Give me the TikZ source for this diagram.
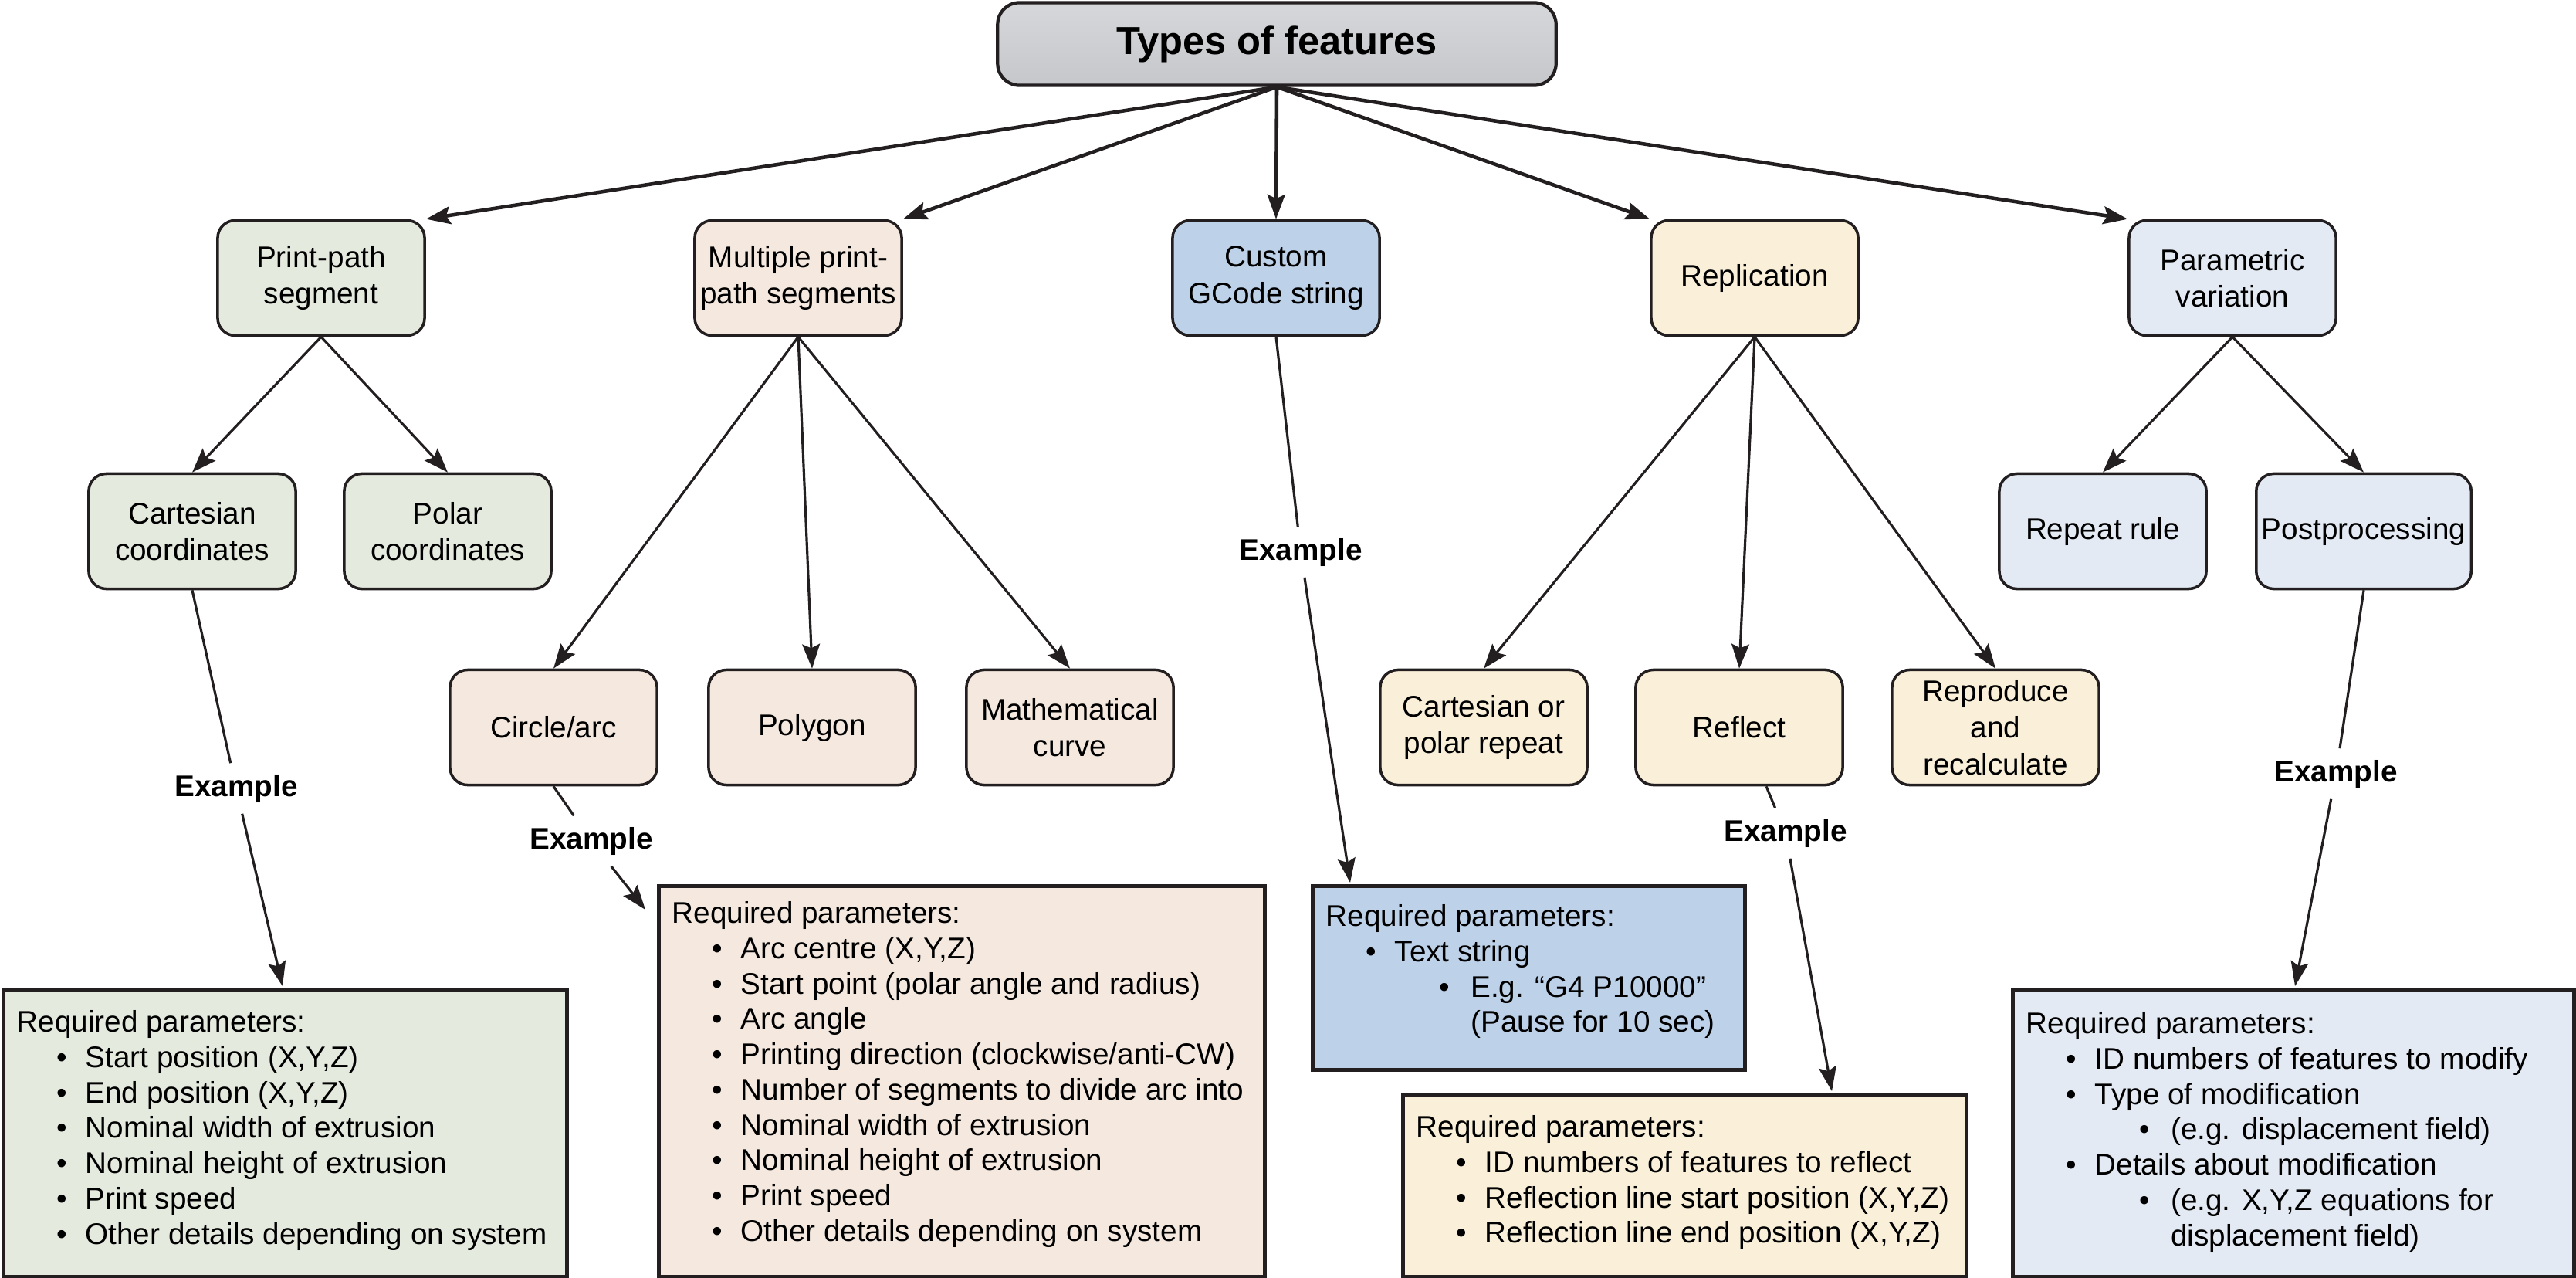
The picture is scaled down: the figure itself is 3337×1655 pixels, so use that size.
\documentclass[tikz,border=0pt]{standalone}
\usepackage{fontspec}
\setmainfont{Liberation Sans}
\usetikzlibrary{arrows.meta,calc}
\definecolor{cline}{HTML}{231F20}
\definecolor{cgreen}{HTML}{E5EADF}
\definecolor{cpeach}{HTML}{F5E9DF}
\definecolor{cblue}{HTML}{BDD1E8}
\definecolor{cyellow}{HTML}{FAF0DA}
\definecolor{clblue}{HTML}{E3EAF3}
\definecolor{cgraytop}{HTML}{D6D7DA}
\definecolor{cgraybot}{HTML}{C6C7CB}
\newcommand{\bl}{\hspace*{1.35em}\makebox[0.95em][l]{\textbullet}}
\newcommand{\bll}{\hspace*{3.8em}\makebox[1.05em][l]{\textbullet}}
\newcommand{\cont}{\hspace*{4.85em}}
\begin{document}
\begin{tikzpicture}[x=0.01cm,y=-0.01cm,
  font=\fontsize{11}{13.5}\selectfont,
  box/.style={draw=cline, line width=1pt, rounded corners=6.5pt, minimum width=2.68cm, minimum height=1.49cm, align=center, inner sep=2pt},
  pbox/.style={draw=cline, line width=1.3pt, inner sep=0pt, anchor=north west},
  ptext/.style={anchor=north west, align=left, inner sep=0pt, font=\fontsize{11}{13}\selectfont},
  arr/.style={draw=cline, line width=1.3pt, -{Stealth[length=9pt,width=6.5pt,inset=1.5pt]}},
  carr/.style={draw=cline, line width=0.9pt, -{Stealth[length=9pt,width=6.5pt,inset=1.5pt]}},
  pline/.style={draw=cline, line width=0.9pt},
  ex/.style={font=\fontsize{11}{13}\selectfont\bfseries, inner sep=4pt}
]
\useasboundingbox (0,0) rectangle (3337,1655);

% title
\node[draw=cline, line width=1.2pt, rounded corners=8pt, top color=cgraytop, bottom color=cgraybot,
      minimum width=7.23cm, minimum height=1.07cm, font=\fontsize{14.4}{17}\selectfont\bfseries] (top) at (1654,57) {\raisebox{-2pt}{Types of features}};

% level 1
\node[box, fill=cgreen]  (pp)  at (416,360)  {Print-path\\segment};
\node[box, fill=cpeach]  (mp)  at (1034,360) {Multiple print-\\path segments};
\node[box, fill=cblue]   (cg)  at (1653,360) {Custom\\GCode string};
\node[box, fill=cyellow] (rep) at (2273,360) {Replication};
\node[box, fill=clblue]  (par) at (2892,360) {Parametric\\variation};

% level 2
\node[box, fill=cgreen] (cart)  at (249,688)  {Cartesian\\coordinates};
\node[box, fill=cgreen] (polar) at (580,688)  {Polar\\coordinates};
\node[box, fill=clblue] (rr)    at (2724,688) {Repeat rule};
\node[box, fill=clblue] (post)  at (3062,688) {Postprocessing};

% level 3
\node[box, fill=cpeach]  (circ) at (717,942)  {Circle/arc};
\node[box, fill=cpeach]  (poly) at (1052,942) {Polygon};
\node[box, fill=cpeach]  (math) at (1386,942) {Mathematical\\curve};
\node[box, fill=cyellow] (cpr)  at (1922,942) {Cartesian or\\polar repeat};
\node[box, fill=cyellow] (refl) at (2253,942) {Reflect};
\node[box, fill=cyellow] (rrc)  at (2585,942) {Reproduce\\and\\recalculate};

% arrows from title
\draw[arr] (top.south) -- (pp.north east);
\draw[arr] (top.south) -- (mp.north east);
\draw[arr] (top.south) -- (cg.north);
\draw[arr] (top.south) -- (rep.north west);
\draw[arr] (top.south) -- (par.north west);

% child arrows
\draw[carr] (pp.south) -- (cart.north);
\draw[carr] (pp.south) -- (polar.north);
\draw[carr] (mp.south) -- (circ.north);
\draw[carr] (mp.south) -- (poly.north);
\draw[carr] (mp.south) -- (math.north);
\draw[carr] (rep.south) -- (cpr.north);
\draw[carr] (rep.south) -- (refl.north);
\draw[carr] (rep.south) -- (rrc.north);
\draw[carr] (par.south) -- (rr.north);
\draw[carr] (par.south) -- (post.north);

% parameter boxes
\node[pbox, fill=cgreen,  minimum width=7.30cm, minimum height=3.72cm] (gbox) at (2,1279) {};
\node[pbox, fill=cpeach,  minimum width=7.85cm, minimum height=5.06cm] (pbx)  at (851,1145) {};
\node[pbox, fill=cblue,   minimum width=5.60cm, minimum height=2.38cm] (bbox) at (1698,1145) {};
\node[pbox, fill=cyellow, minimum width=7.30cm, minimum height=2.36cm] (ybox) at (1815,1415) {};
\node[pbox, fill=clblue,  minimum width=7.27cm, minimum height=3.72cm] (lbox) at (2605,1279) {};

\node[ptext] (gtxt) at ([shift={(19,29)}]gbox.north west) {Required parameters:\\
\bl Start position (X,Y,Z)\\
\bl End position (X,Y,Z)\\
\bl Nominal width of extrusion\\
\bl Nominal height of extrusion\\
\bl Print speed\\
\bl Other details depending on system};

\node[ptext] (ptxt) at ([shift={(19,22)}]pbx.north west) {Required parameters:\\
\bl Arc centre (X,Y,Z)\\
\bl Start point (polar angle and radius)\\
\bl Arc angle\\
\bl Printing direction (clockwise/anti-CW)\\
\bl Number of segments to divide arc into\\
\bl Nominal width of extrusion\\
\bl Nominal height of extrusion\\
\bl Print speed\\
\bl Other details depending on system};

\node[ptext] (btxt) at ([shift={(19,26)}]bbox.north west) {Required parameters:\\
\bl Text string\\
\bll E.g. “G4 P10000”\\
\cont (Pause for 10 sec)};

\node[ptext] (ytxt) at ([shift={(19,29)}]ybox.north west) {Required parameters:\\
\bl ID numbers of features to reflect\\
\bl Reflection line start position (X,Y,Z)\\
\bl Reflection line end position (X,Y,Z)};

\node[ptext] (ltxt) at ([shift={(19,31)}]lbox.north west) {Required parameters:\\
\bl ID numbers of features to modify\\
\bl Type of modification\\
\bll (e.g. displacement field)\\
\bl Details about modification\\
\bll (e.g. X,Y,Z equations for\\
\cont displacement field)};

% example connectors
\coordinate (t1) at (366,1277);
\coordinate (t2) at (836,1178);
\coordinate (t3) at (1749,1143);
\coordinate (t4) at (2373,1413);
\coordinate (t5) at (2973,1277);

\node[ex] (e1) at (306,1021) {Example};
\node[ex] (e2) at (766,1089) {Example};
\node[ex] (e3) at (1685,715) {Example};
\node[ex] (e4) at (2313,1079) {Example};
\node[ex] (e5) at (3026,1002) {Example};

\draw[pline] (cart.south) -- (e1);
\draw[carr] (e1) -- (t1);
\draw[pline] (circ.south) -- (e2);
\draw[carr] (e2) -- (t2);
\draw[pline] (cg.south) -- (e3);
\draw[carr] (e3) -- (t3);
\draw[pline] ([xshift=0.35cm]refl.south) -- (e4);
\draw[carr] (e4) -- (t4);
\draw[pline] (post.south) -- (e5);
\draw[carr] (e5) -- (t5);
\end{tikzpicture}
\end{document}
